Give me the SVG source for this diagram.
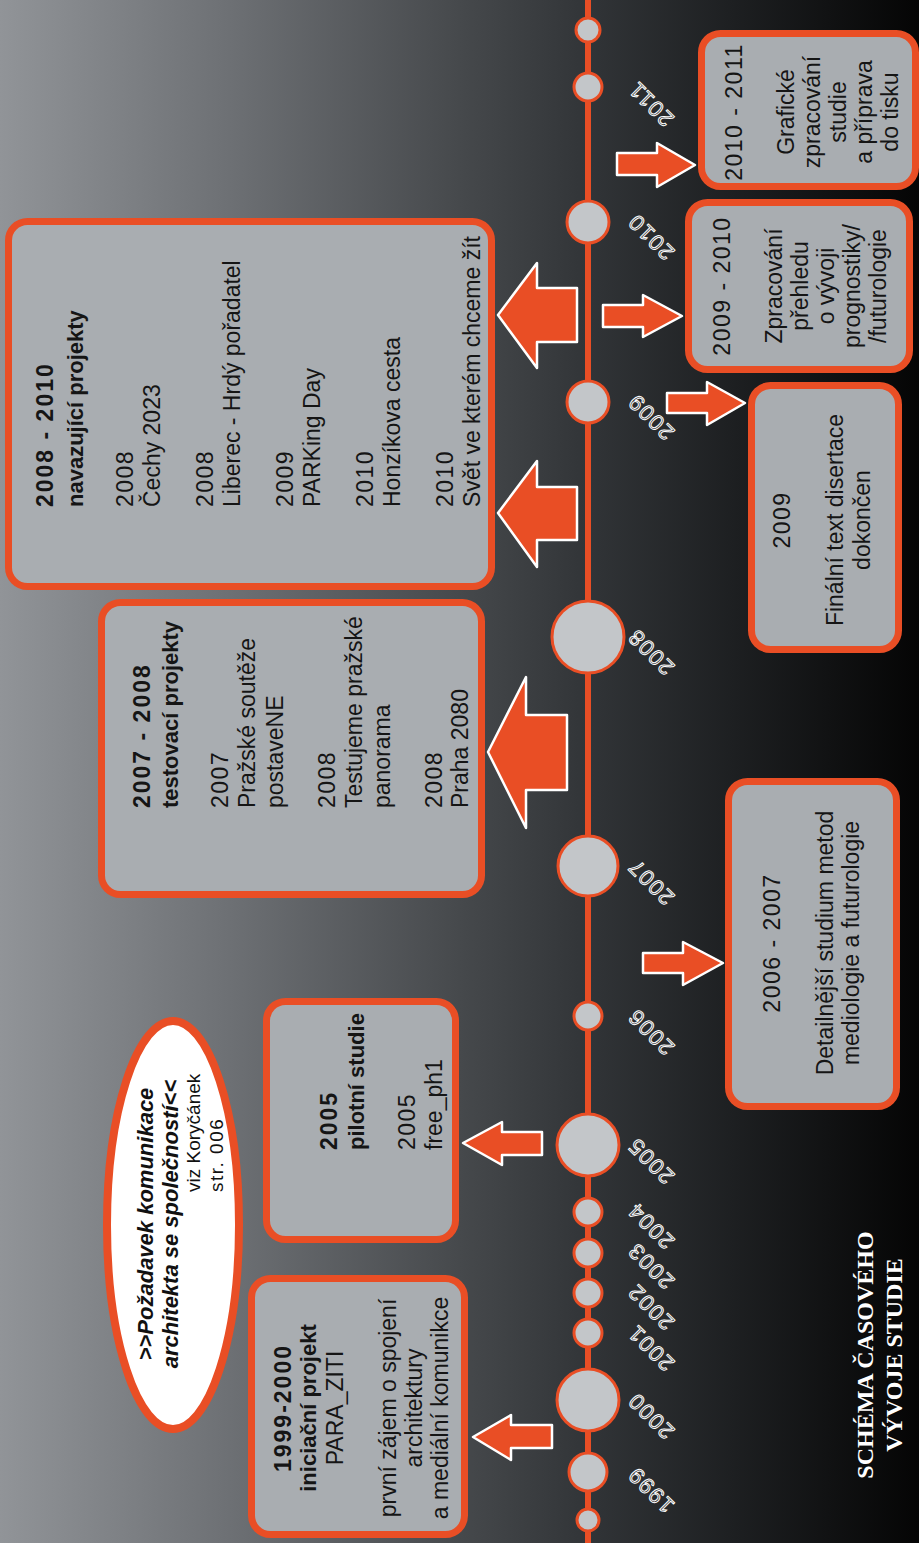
<svg xmlns="http://www.w3.org/2000/svg" width="919" height="1543" viewBox="0 0 919 1543">
<defs>
<linearGradient id="bg" x1="0" y1="0" x2="1" y2="0">
<stop offset="0" stop-color="#919498"/>
<stop offset="0.25" stop-color="#6d7074"/>
<stop offset="0.5" stop-color="#46494c"/>
<stop offset="0.65" stop-color="#303336"/>
<stop offset="0.8" stop-color="#1d1f21"/>
<stop offset="1" stop-color="#050505"/>
</linearGradient>
<style>
.box{fill:#a9adb1;stroke:#e94e25;stroke-width:7}
.dot{fill:#c3c6c9;stroke:#e94e25;stroke-width:3}
.arr{fill:#e94e25;stroke:#ffffff;stroke-width:2.5;stroke-linejoin:round}
.t{font-family:"Liberation Sans",Arial,sans-serif;font-size:23px;fill:#151515}
.b{font-weight:bold;font-size:22px}
.n{letter-spacing:1.5px}
.bn{letter-spacing:2px;font-size:23px}
.m{text-anchor:middle}
.yr{font-family:"Liberation Sans",Arial,sans-serif;font-size:22px;fill:none;stroke:#ffffff;stroke-width:1;text-anchor:middle;dominant-baseline:central;letter-spacing:1.5px}
.el{font-family:"Liberation Sans",Arial,sans-serif;font-size:22px;font-weight:bold;font-style:italic;fill:#111;text-anchor:middle}
.sm{font-family:"Liberation Sans",Arial,sans-serif;font-size:19px;fill:#111}
.ttl{font-family:"Liberation Serif","Times New Roman",serif;font-size:24px;font-weight:bold;fill:#ffffff;text-anchor:middle}
</style>
</defs>
<rect x="0" y="0" width="919" height="1543" fill="url(#bg)"/>

<g id="connectors">
<line x1="588" y1="0" x2="588" y2="1543" stroke="#e94e25" stroke-width="6"/>
<path class="arr" d="M498,315 L537,263 L537,288 L577,288 L577,342 L537,342 L537,368 Z"/>
<path class="arr" d="M498,513 L537,461 L537,487 L577,487 L577,540 L537,540 L537,567 Z"/>
<path class="arr" d="M488,752 L526,677 L526,715 L567,715 L567,790 L526,790 L526,828 Z"/>
<path class="arr" d="M463,1143 L502,1122 L502,1132 L542,1132 L542,1155 L502,1155 L502,1165 Z"/>
<path class="arr" d="M473,1437 L511,1415 L511,1425 L552,1425 L552,1448 L511,1448 L511,1460 Z"/>
<path class="arr" d="M723,963 L683,942 L683,953 L643,953 L643,973 L683,973 L683,985 Z"/>
<path class="arr" d="M745,403 L707,382 L707,393 L667,393 L667,413 L707,413 L707,425 Z"/>
<path class="arr" d="M682,316 L643,295 L643,305 L603,305 L603,327 L643,327 L643,337 Z"/>
<path class="arr" d="M695,165 L657,143 L657,153 L617,153 L617,175 L657,175 L657,187 Z"/>
</g>

<g id="timeline-dots">
<circle class="dot" cx="588" cy="30" r="12"/>
<circle class="dot" cx="588" cy="87" r="14"/>
<circle class="dot" cx="588" cy="222" r="21"/>
<circle class="dot" cx="588" cy="402" r="21"/>
<circle class="dot" cx="588" cy="637" r="36"/>
<circle class="dot" cx="588" cy="866" r="30"/>
<circle class="dot" cx="588" cy="1016" r="14"/>
<circle class="dot" cx="588" cy="1145" r="31"/>
<circle class="dot" cx="588" cy="1212" r="14"/>
<circle class="dot" cx="588" cy="1253" r="14"/>
<circle class="dot" cx="588" cy="1293" r="14"/>
<circle class="dot" cx="588" cy="1333" r="14"/>
<circle class="dot" cx="588" cy="1400" r="31"/>
<circle class="dot" cx="588" cy="1472" r="19"/>
<circle class="dot" cx="588" cy="1520" r="11"/>
</g>

<g id="year-labels">
<text class="yr" transform="translate(651,104) rotate(-135)">2011</text>
<text class="yr" transform="translate(651,237) rotate(-135)">2010</text>
<text class="yr" transform="translate(651,417) rotate(-135)">2009</text>
<text class="yr" transform="translate(651,652) rotate(-135)">2008</text>
<text class="yr" transform="translate(651,882) rotate(-135)">2007</text>
<text class="yr" transform="translate(651,1032) rotate(-135)">2006</text>
<text class="yr" transform="translate(651,1161) rotate(-135)">2005</text>
<text class="yr" transform="translate(651,1226) rotate(-135)">2004</text>
<text class="yr" transform="translate(651,1266) rotate(-135)">2003</text>
<text class="yr" transform="translate(651,1307) rotate(-135)">2002</text>
<text class="yr" transform="translate(651,1348) rotate(-135)">2001</text>
<text class="yr" transform="translate(651,1416) rotate(-135)">2000</text>
<text class="yr" transform="translate(651,1490) rotate(-135)">1999</text>
</g>

<g id="box-2008-2010">
<rect class="box" x="8.5" y="221.5" width="483" height="365" rx="19"/>
<g transform="translate(0,507) rotate(-90)" class="t">
<text y="53" class="b bn">2008 - 2010</text>
<text y="83" class="b">navazující projekty</text>
<text y="133" class="n">2008</text>
<text y="160">Čechy 2023</text>
<text y="213" class="n">2008</text>
<text y="240">Liberec - Hrdý pořadatel</text>
<text y="293" class="n">2009</text>
<text y="320">PARKing Day</text>
<text y="373" class="n">2010</text>
<text y="400">Honzíkova cesta</text>
<text y="453" class="n">2010</text>
<text y="480">Svět ve kterém chceme žít</text>
</g>
</g>

<g id="box-2007-2008">
<rect class="box" x="101.5" y="602.5" width="380" height="292" rx="19"/>
<g transform="translate(0,808) rotate(-90)" class="t">
<text y="150" class="b bn">2007 - 2008</text>
<text y="178" class="b">testovací projekty</text>
<text y="228" class="n">2007</text>
<text y="255">Pražské soutěže</text>
<text y="283">postaveNE</text>
<text y="335" class="n">2008</text>
<text y="362">Testujeme pražské</text>
<text y="390">panorama</text>
<text y="442" class="n">2008</text>
<text y="468">Praha 2080</text>
</g>
</g>

<g id="box-2005">
<rect class="box" x="266.5" y="1001.5" width="189" height="238" rx="19"/>
<g transform="translate(0,1150) rotate(-90)" class="t">
<text y="337" class="b bn">2005</text>
<text y="364" class="b">pilotní studie</text>
<text y="415" class="n">2005</text>
<text y="442">free_ph1</text>
</g>
</g>

<g id="box-1999-2000">
<rect class="box" x="251.5" y="1278.5" width="213" height="256" rx="19"/>
<g transform="translate(0,1408) rotate(-90)" class="t m">
<text y="291" class="b bn">1999-2000</text>
<text y="316" class="b">iniciační projekt</text>
<text y="343">PARA_ZITI</text>
<text y="396">první zájem o spojení</text>
<text y="422">architektury</text>
<text y="448">a mediální komunikce</text>
</g>
</g>

<g id="ellipse-note">
<ellipse cx="173" cy="1225" rx="66" ry="204" fill="#ffffff" stroke="#e94e25" stroke-width="8"/>
<g transform="translate(0,1224) rotate(-90)">
<text y="153" class="el">&gt;&gt;Požadavek komunikace</text>
<text y="178" class="el">architekta se společností&lt;&lt;</text>
</g>
<g transform="translate(0,1192) rotate(-90)" class="sm">
<text y="200">viz Koryčánek</text>
<text y="223" letter-spacing="1.5">str. 006</text>
</g>
</g>

<g id="box-2010-2011">
<rect class="box" x="701.5" y="33.5" width="214" height="153" rx="19"/>
<g transform="translate(0,112) rotate(-90)" class="t m">
<text y="742" class="n">2010 - 2011</text>
<text y="794">Grafické</text>
<text y="820">zpracování</text>
<text y="846">studie</text>
<text y="872">a příprava</text>
<text y="898">do tisku</text>
</g>
</g>

<g id="box-2009-2010">
<rect class="box" x="688.5" y="202.5" width="221" height="167" rx="19"/>
<g transform="translate(0,286) rotate(-90)" class="t m">
<text y="730" class="n">2009 - 2010</text>
<text y="782">Zpracování</text>
<text y="808">přehledu</text>
<text y="834">o vývoji</text>
<text y="860">prognostiky/</text>
<text y="886">/futurologie</text>
</g>
</g>

<g id="box-2009">
<rect class="box" x="751.5" y="385.5" width="147" height="264" rx="19"/>
<g transform="translate(0,520) rotate(-90)" class="t m">
<text y="790" class="n">2009</text>
<text y="843">Finální text disertace</text>
<text y="870">dokončen</text>
</g>
</g>

<g id="box-2006-2007">
<rect class="box" x="728.5" y="781.5" width="168" height="325" rx="19"/>
<g transform="translate(0,943) rotate(-90)" class="t m">
<text y="780" class="n">2006 - 2007</text>
<text y="833">Detailnější studium metod</text>
<text y="859">mediologie a futurologie</text>
</g>
</g>

<g id="title" transform="translate(0,1355) rotate(-90)">
<text y="873" class="ttl">SCHÉMA ČASOVÉHO</text>
<text y="902" class="ttl">VÝVOJE STUDIE</text>
</g>
</svg>
